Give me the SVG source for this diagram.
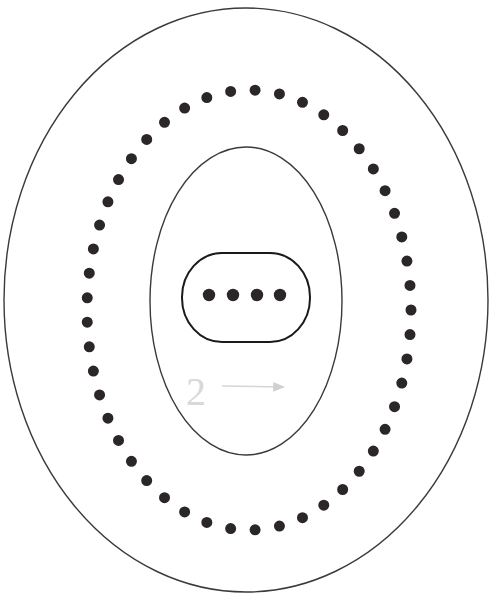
<svg xmlns="http://www.w3.org/2000/svg" width="489" height="595" viewBox="0 0 489 595">
<style>
.line{fill:none;stroke:#3a3a3a;stroke-width:1.4}
.dot{fill:#2b2628}
.faint{stroke:#d6d6d6;fill:none;stroke-width:1.5}
</style>
<defs>
<marker id="ah" viewBox="0 0 10 10" refX="9" refY="5" markerWidth="8" markerHeight="8" orient="auto"><path d="M0,1 L10,5 L0,9 z" fill="#d0d0d0"/></marker>
</defs>
<rect width="489" height="595" fill="#fff"/>
<g id="outer"><ellipse class="line" cx="246" cy="300" rx="242" ry="292"/></g>
<g id="dotted"><ellipse cx="249" cy="310" rx="162" ry="220" fill="none" stroke="#2b2628" stroke-width="11" stroke-linecap="round" stroke-dasharray="0 1" pathLength="49"/></g>
<g id="inner"><ellipse class="line" cx="246" cy="301" rx="96" ry="154"/></g>
<g id="core">
<rect x="182" y="253" width="128" height="89" rx="40" ry="44" fill="none" stroke="#1a1a1a" stroke-width="2"/>
<circle class="dot" cx="209" cy="295" r="6.2"/>
<circle class="dot" cx="233" cy="295" r="6.2"/>
<circle class="dot" cx="257" cy="295" r="6.2"/>
<circle class="dot" cx="280" cy="295" r="6.2"/>
</g>
<g id="connectors">
<line class="faint" x1="222" y1="386" x2="284" y2="387" marker-end="url(#ah)"/>
</g>
<text x="186" y="405" font-family="Liberation Serif, serif" font-size="40" fill="#d8d8d8">2</text>
</svg>
